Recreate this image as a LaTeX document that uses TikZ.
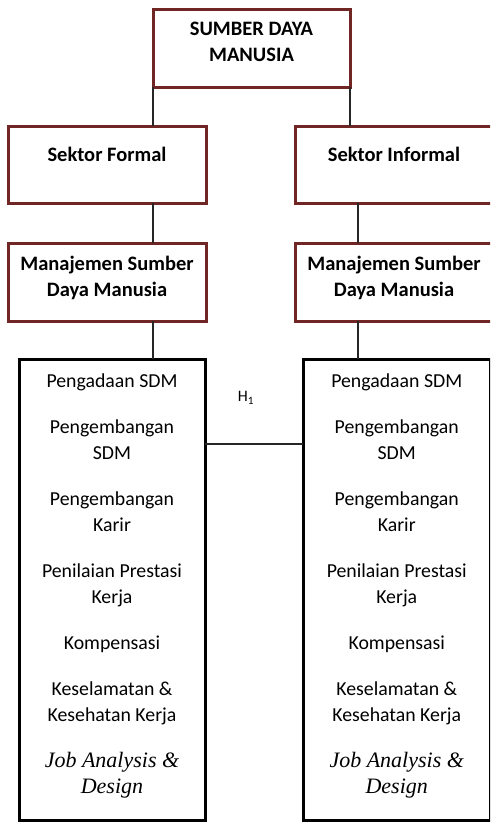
\documentclass[tikz,border=0pt]{standalone}
\usepackage{fontspec}
\setmainfont{Carlito}
\newfontfamily\serifmiring{Liberation Serif}
\usetikzlibrary{positioning}

\definecolor{merahtua}{RGB}{112,38,36}
\newcommand{\isi}[4]{\parbox[c][#2][t]{#1}{\vspace*{#3}\centering #4\par}}
\newcommand{\daftarisi}{Pengadaan SDM\\[20pt]
	Pengembangan\\SDM\\[20pt]
	Pengembangan\\Karir\\[20pt]
	Penilaian Prestasi\\Kerja\\[20pt]
	Kompensasi\\[20pt]
	Keselamatan \&\\Kesehatan Kerja\\[20pt]
	{\serifmiring\itshape\fontsize{22}{26}\selectfont Job Analysis \&\\Design}}

\begin{document}
\begin{tikzpicture}[x=1pt, y=-1pt]
			\tikzset{kotakmerah/.style = {draw=merahtua, line width=3pt, inner sep=0pt, outer sep=0pt,
					font=\bfseries\fontsize{20.5}{26}\selectfont}}
			\tikzset{kotakdaftar/.style = {draw=black, line width=3pt, inner sep=0pt, outer sep=0pt,
					font=\fontsize{19.8}{26}\selectfont}}
			\tikzset{garis/.style = {draw=black!85, line width=1.5pt}}
			\useasboundingbox (0,0) rectangle (490,822);
			\clip (0,0) rectangle (490,822);
			
			% Kotak
			\node[kotakmerah] (sdm) at (251.5,48) {\isi{197pt}{78pt}{13pt}{SUMBER DAYA\\MANUSIA}};
			\node[kotakmerah] (formal) at (107,164.5) {\isi{198pt}{77pt}{21pt}{Sektor Formal}};
			\node[kotakmerah, right=89pt of formal] (informal) {\isi{198pt}{77pt}{21pt}{Sektor Informal}};
			\node[kotakmerah, below=40pt of formal] (msdm1) {\isi{198pt}{78pt}{13pt}{Manajemen Sumber\\Daya Manusia}};
			\node[kotakmerah, below=40pt of informal] (msdm2) {\isi{198pt}{78pt}{13pt}{Manajemen Sumber\\Daya Manusia}};
			\node[kotakdaftar] (daftar1) at (112,589.5) {\isi{186pt}{461pt}{14.5pt}{\daftarisi}};
			\node[kotakdaftar] (daftar2) at (396.75,589.5) {\isi{187.5pt}{461pt}{14.5pt}{\daftarisi}};
			\node[font=\fontsize{16}{19}\selectfont] (h1) at (246,398) {H\textsubscript{1}};
			
			% Garis
			\draw[garis] (sdm.south west) -- (sdm.south west |- formal.north);
			\draw[garis] (sdm.south east) -- (sdm.south east |- informal.north);
			\draw[garis] (sdm.south west |- formal.south) -- (sdm.south west |- msdm1.north);
			\draw[garis] ([xshift=-36pt]informal.south) -- ([xshift=-36pt]msdm2.north);
			\draw[garis] (sdm.south west |- msdm1.south) -- (sdm.south west |- daftar1.north);
			\draw[garis] ([xshift=-36pt]msdm2.south) -- ([xshift=-38.75pt]daftar2.north);
			\draw[garis] ([yshift=145.5pt]daftar1.east) -- ([yshift=145.5pt]daftar2.west);
		\end{tikzpicture}
\end{document}
